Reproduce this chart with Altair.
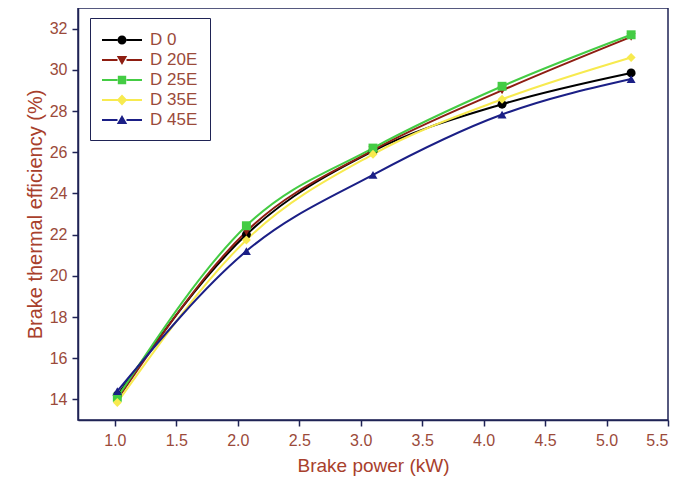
import altair as alt
import pandas as pd

series = ["D 0", "D 20E", "D 25E", "D 35E", "D 45E"]
power = [1.02, 2.07, 3.10, 4.15, 5.20]
d0 = [14.2, 22.0, 26.05, 28.33, 29.85]
d20 = [14.0, 22.15, 26.1, 29.0, 31.6]
d25 = [14.1, 22.43, 26.2, 29.2, 31.7]
d35 = [13.85, 21.74, 25.9, 28.57, 30.6]
d45 = [14.4, 21.2, 24.9, 27.83, 29.55]
colors = ["#000000", "#8e1e12", "#44cc44", "#f7ea4f", "#1b1f86"]
shapes = ["circle", "triangle-down", "square", "diamond", "triangle-up"]

rows = []
for name, vals in zip(series, [d0, d20, d25, d35, d45]):
    for p, v in zip(power, vals):
        rows.append({"series": name, "power": p, "eff": v})
df = pd.DataFrame(rows)

# legend symbols: line + marker as custom paths (unit = 10px at size 400)
line_part = "M-1,-0.1 L0.55,-0.1 L0.55,0.1 L-1,0.1 Z M1.45,-0.1 L3,-0.1 L3,0.1 L1.45,0.1 Z "
legend_paths = [
    line_part + "M1.45,0 A0.45,0.45 0 1,1 0.55,0 A0.45,0.45 0 1,1 1.45,0 Z",
    line_part + "M0.48,-0.4 L1.52,-0.4 L1,0.5 Z",
    line_part + "M0.58,-0.42 L1.42,-0.42 L1.42,0.42 L0.58,0.42 Z",
    line_part + "M1,-0.55 L1.52,0 L1,0.55 L0.48,0 Z",
    line_part + "M0.48,0.4 L1.52,0.4 L1,-0.5 Z",
]

navy = "#1f2355"
label_col = "#9b4a3a"
title_col = "#a8402c"

x_enc = alt.X("power:Q", scale=alt.Scale(domain=[0.7, 5.5], nice=False, zero=False),
              axis=alt.Axis(values=[1.0, 1.5, 2.0, 2.5, 3.0, 3.5, 4.0, 4.5, 5.0, 5.5], format=".1f",
                            title="Brake power (kW)", grid=False, titleFontSize=19,
                            labelPadding=6, titlePadding=8))
y_enc = alt.Y("eff:Q", scale=alt.Scale(domain=[13, 33], nice=False, zero=False),
              axis=alt.Axis(values=list(range(14, 33, 2)), title="Brake thermal efficiency (%)", grid=False,
                            titleFontSize=20, labelPadding=5, titlePadding=4))
col_scale = alt.Scale(domain=series, range=colors)

leg = dict(title=None, orient="none", legendX=12, legendY=10,
           strokeColor=navy, padding=12, symbolSize=400,
           labelFontSize=17, labelColor=label_col, labelFont="Liberation Sans",
           rowPadding=2, labelOffset=28, symbolStrokeWidth=0)

base = alt.Chart(df)
lines = base.mark_line(interpolate="monotone", strokeWidth=2).encode(
    x=x_enc, y=y_enc,
    color=alt.Color("series:N", scale=col_scale, legend=None),
    order=alt.Order("power:Q"),
)
points = base.mark_point(filled=True, size=80, opacity=1).encode(
    x=x_enc, y=y_enc,
    color=alt.Color("series:N", scale=col_scale, legend=None),
    shape=alt.Shape("series:N", scale=alt.Scale(domain=series, range=shapes), legend=None),
)
legend_layer = base.transform_filter("false").mark_point(filled=True, opacity=1).encode(
    x=x_enc, y=y_enc,
    color=alt.Color("series:N", scale=col_scale, legend=alt.Legend(**leg)),
    shape=alt.Shape("series:N", scale=alt.Scale(domain=series, range=legend_paths),
                    legend=alt.Legend(**leg)),
)

chart = alt.layer(lines, points, legend_layer).resolve_scale(
    color="independent", shape="independent"
).properties(
    width=590, height=412,
    padding={"left": 17, "top": 0, "right": 5, "bottom": 5},
).configure_view(
    stroke=navy, strokeWidth=1.5
).configure_axis(
    domainColor=navy, domainWidth=1.5, tickColor=navy, tickWidth=1.5, tickSize=6,
    labelColor=label_col, labelFontSize=16, labelFont="Liberation Sans",
    titleColor=title_col, titleFont="Liberation Sans", titleFontWeight="normal",
)

chart.save("out.html", embed_options={"renderer": "svg", "actions": False})
